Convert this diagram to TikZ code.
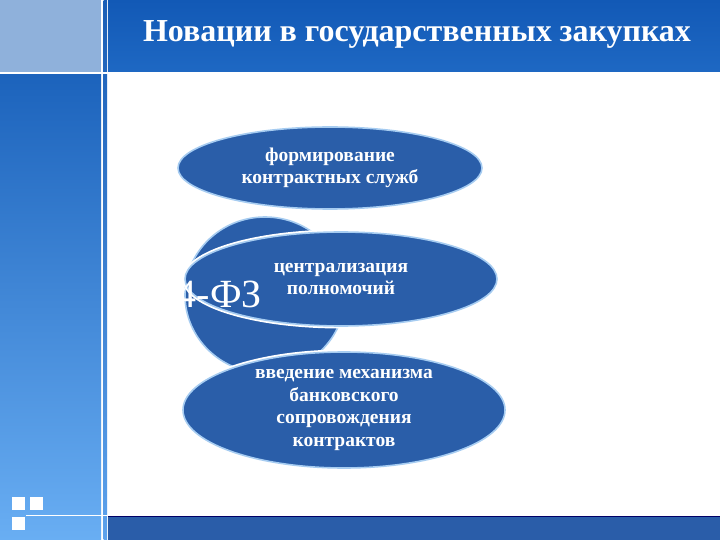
\documentclass[tikz,border=0pt]{standalone}
\usepackage{fontspec}
\setmainfont{Liberation Serif}
\usetikzlibrary{shapes.geometric}
\definecolor{sidetop}{HTML}{8FB1DB}
\definecolor{sidehi}{HTML}{1C63BC}
\definecolor{sidelo}{HTML}{69AEF3}
\definecolor{stripehi}{HTML}{1A5EB6}
\definecolor{stripelo}{HTML}{5DA2EC}
\definecolor{titlehi}{HTML}{1259B6}
\definecolor{titlelo}{HTML}{1E68C3}
\definecolor{ovalfill}{HTML}{2A5EA9}
\definecolor{ovaledge}{HTML}{A6CCF1}
\definecolor{barblue}{HTML}{2A5DA9}
\begin{document}
\begin{tikzpicture}[x = 1pt, y = -1pt,
  oval/.style = {ellipse, inner sep = 0pt, fill = ovalfill, draw = ovaledge, line width = 1.6pt,
    preaction = {draw = white, line width = 5pt}, text = white, align = center,
    font = \bfseries\fontsize{19.5}{22.5}\selectfont},
  square/.style = {fill = white, inner sep = 0pt, minimum size = 13pt, anchor = north west}]
\useasboundingbox (0,0) rectangle (720,540);
%%\draw[help lines] (0,0) grid (720,540);
\fill [white] (0,0) rectangle (720,540);
\fill [sidetop] (0,0) rectangle (101,72);
\shade [top color = sidehi, bottom color = sidelo] (0,74) rectangle (101,540);
\shade [top color = stripehi, bottom color = stripelo] (103.5,0) rectangle (107,540);
\shade [top color = titlehi, bottom color = titlelo] (108,0) rectangle (720,72);
\draw [white, line width = 1.5pt] (0,73) -- (108,73);
\fill [barblue] (108,516) rectangle (720,540);
\draw [black!60!blue, line width = 0.8pt] (108,516) -- (720,516);
\draw [white, line width = 1pt] (26,515.5) -- (108,515.5);
\node (sqa) [square] at (12,497) {};
\node (sqb) [square] at (30,497) {};
\node (sqc) [square] at (12,517) {};
\node (title) [text = white, font = \bfseries\fontsize{32}{38}\selectfont] at (417,34) {Новации в государственных закупках};
\node (forming) [oval, minimum width = 304pt, minimum height = 82pt] at (330,168) {формирование\\контрактных служб};
\node (law) [oval, minimum width = 160pt, minimum height = 156pt] at (265,295) {};
\node (central) [oval, minimum width = 312pt, minimum height = 94pt] at (341,279) {централизация\\полномочий};
\node (bank) [oval, minimum width = 322pt, minimum height = 116pt] at (344,410) {введение механизма\\банковского\\сопровождения\\контрактов};
\node (lawtext) [text = white, font = \fontsize{40}{40}\selectfont, anchor = base east, inner sep = 0pt] at (262,307) {44-ФЗ};
\end{tikzpicture}
\end{document}
